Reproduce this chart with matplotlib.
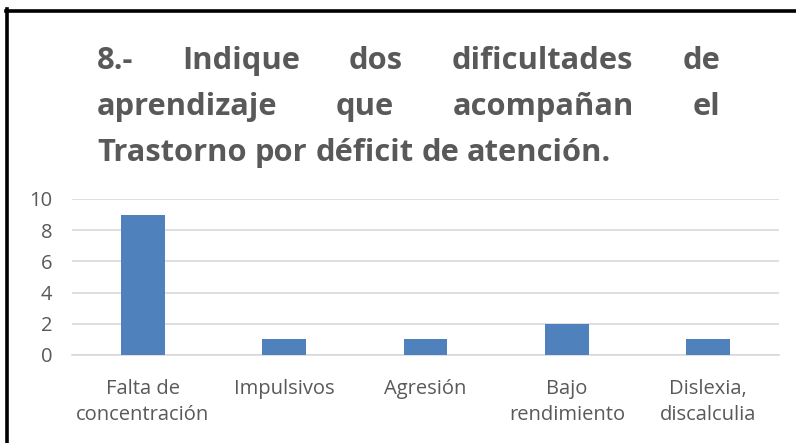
import matplotlib.pyplot as plt
from matplotlib.lines import Line2D

categories = ["Falta de\nconcentración", "Impulsivos", "Agresión",
              "Bajo\nrendimiento", "Dislexia,\ndiscalculia"]
values = [9, 1, 1, 2, 1]
yticks = [0, 2, 4, 6, 8, 10]
title_lines = [
    ["8.-", "Indique", "dos", "dificultades", "de"],
    ["aprendizaje", "que", "acompañan", "el"],
    ["Trastorno", "por", "déficit", "de", "atención."],
]

W, H = 796, 443
fig = plt.figure(figsize=(W / 100, H / 100), dpi=100)
ax = fig.add_axes([72 / W, 1 - 355 / H, (779 - 72) / W, (355 - 199) / H])

x = range(len(categories))
ax.bar(x, values, width=0.31, color="#4F81BD", zorder=3)
ax.set_xlim(-0.5, len(categories) - 0.5)
ax.set_ylim(0, 10)
ax.set_yticks(yticks)
ax.set_xticks(list(x))
ax.set_xticklabels(categories, fontsize=14.5, color="#595959",
                   family="Open Sans", linespacing=1.45)
ax.tick_params(axis="y", labelsize=14.5, labelcolor="#595959", length=0, pad=14)
ax.tick_params(axis="x", length=0, pad=17)
for lab in ax.get_yticklabels():
    lab.set_family("Open Sans")
ax.grid(axis="y", color="#d9d9d9", linewidth=1.2, zorder=0)
for s in ["top", "right", "left"]:
    ax.spines[s].set_visible(False)
ax.spines["bottom"].set_color("#d9d9d9")
ax.spines["bottom"].set_linewidth(1.2)

# justified title, size fitted so the last line spans ~515 px
left, right = 97, 720
line_y = [61, 107, 153]
renderer = fig.canvas.get_renderer()
tfont = dict(fontweight="bold", family="Open Sans")
probe = fig.text(0, 0, " ".join(title_lines[-1]), fontsize=20, **tfont)
tsize = 20 * 515 / probe.get_window_extent(renderer).width
probe.remove()
for i, words in enumerate(title_lines):
    texts = [fig.text(0, 1 - line_y[i] / H, w, fontsize=tsize, color="#595959",
                      va="center", **tfont)
             for w in words]
    widths = [t.get_window_extent(renderer).width for t in texts]
    if i < len(title_lines) - 1:
        gap = (right - left - sum(widths)) / (len(words) - 1)
    else:
        sp = fig.text(0, 0, "a a", fontsize=tsize, **tfont)
        aa = fig.text(0, 0, "aa", fontsize=tsize, **tfont)
        gap = sp.get_window_extent(renderer).width - aa.get_window_extent(renderer).width
        sp.remove()
        aa.remove()
    pos = left
    for t, w in zip(texts, widths):
        t.set_x(pos / W)
        pos += w + gap

# frame: only top and left edges visible
fig.add_artist(Line2D([6 / W, 1], [1 - 10.5 / H, 1 - 10.5 / H], color="black",
                      linewidth=2.6, transform=fig.transFigure))
fig.add_artist(Line2D([7.5 / W, 7.5 / W], [0, 1 - 9 / H], color="black",
                      linewidth=2.6, transform=fig.transFigure))

fig.savefig("out.png", dpi=100)
